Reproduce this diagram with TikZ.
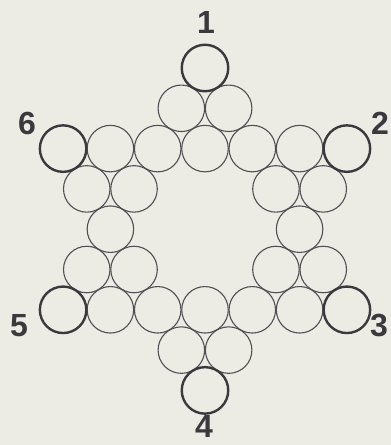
\documentclass[tikz,border=0pt]{standalone}
\usepackage{fontspec}
\setmainfont{Liberation Sans}
\definecolor{bg}{HTML}{ECEBE4}
\definecolor{ink}{HTML}{3A3A3E}
\definecolor{thin}{HTML}{505054}
\begin{document}
\begin{tikzpicture}[x=1pt,y=-1pt,
  ball/.style={circle,draw=thin,line width=1.1pt,minimum size=46.5pt,inner sep=0pt},
  bigball/.style={ball,draw=ink,line width=2.4pt},
  num/.style={text=ink,font=\bfseries\fontsize{32}{32}\selectfont,inner sep=0pt}]
\fill[bg] (0,0) rectangle (391,445);
\useasboundingbox (0,0) rectangle (391,445);
\def\cx{205}\def\hx{23.65}\def\ty{68}\def\vy{40.3}
\foreach \r/\list in {1/{-1,1},2/{-4,-2,0,2,4},3/{-5,-3,3,5},4/{-4,4},5/{-5,-3,3,5},6/{-4,-2,0,2,4},7/{-1,1}}{
  \foreach \k in \list {
    \node[ball] (c\r\k) at ({\cx+\k*\hx},{\ty+\r*\vy}) {};
  }
}
\node[bigball] (b1) at (\cx,\ty) {};
\node[bigball] (b2) at ({\cx+6*\hx},{\ty+2*\vy}) {};
\node[bigball] (b3) at ({\cx+6*\hx},{\ty+6*\vy}) {};
\node[bigball] (b4) at (\cx,{\ty+8*\vy}) {};
\node[bigball] (b5) at ({\cx-6*\hx},{\ty+6*\vy}) {};
\node[bigball] (b6) at ({\cx-6*\hx},{\ty+2*\vy}) {};
\node[num] (l1) at (206,22) {1};
\node[num] (l2) at (380,123) {2};
\node[num] (l3) at (379,326) {3};
\node[num] (l4) at (204,426) {4};
\node[num] (l5) at (19,326) {5};
\node[num] (l6) at (27,123) {6};
\end{tikzpicture}
\end{document}
